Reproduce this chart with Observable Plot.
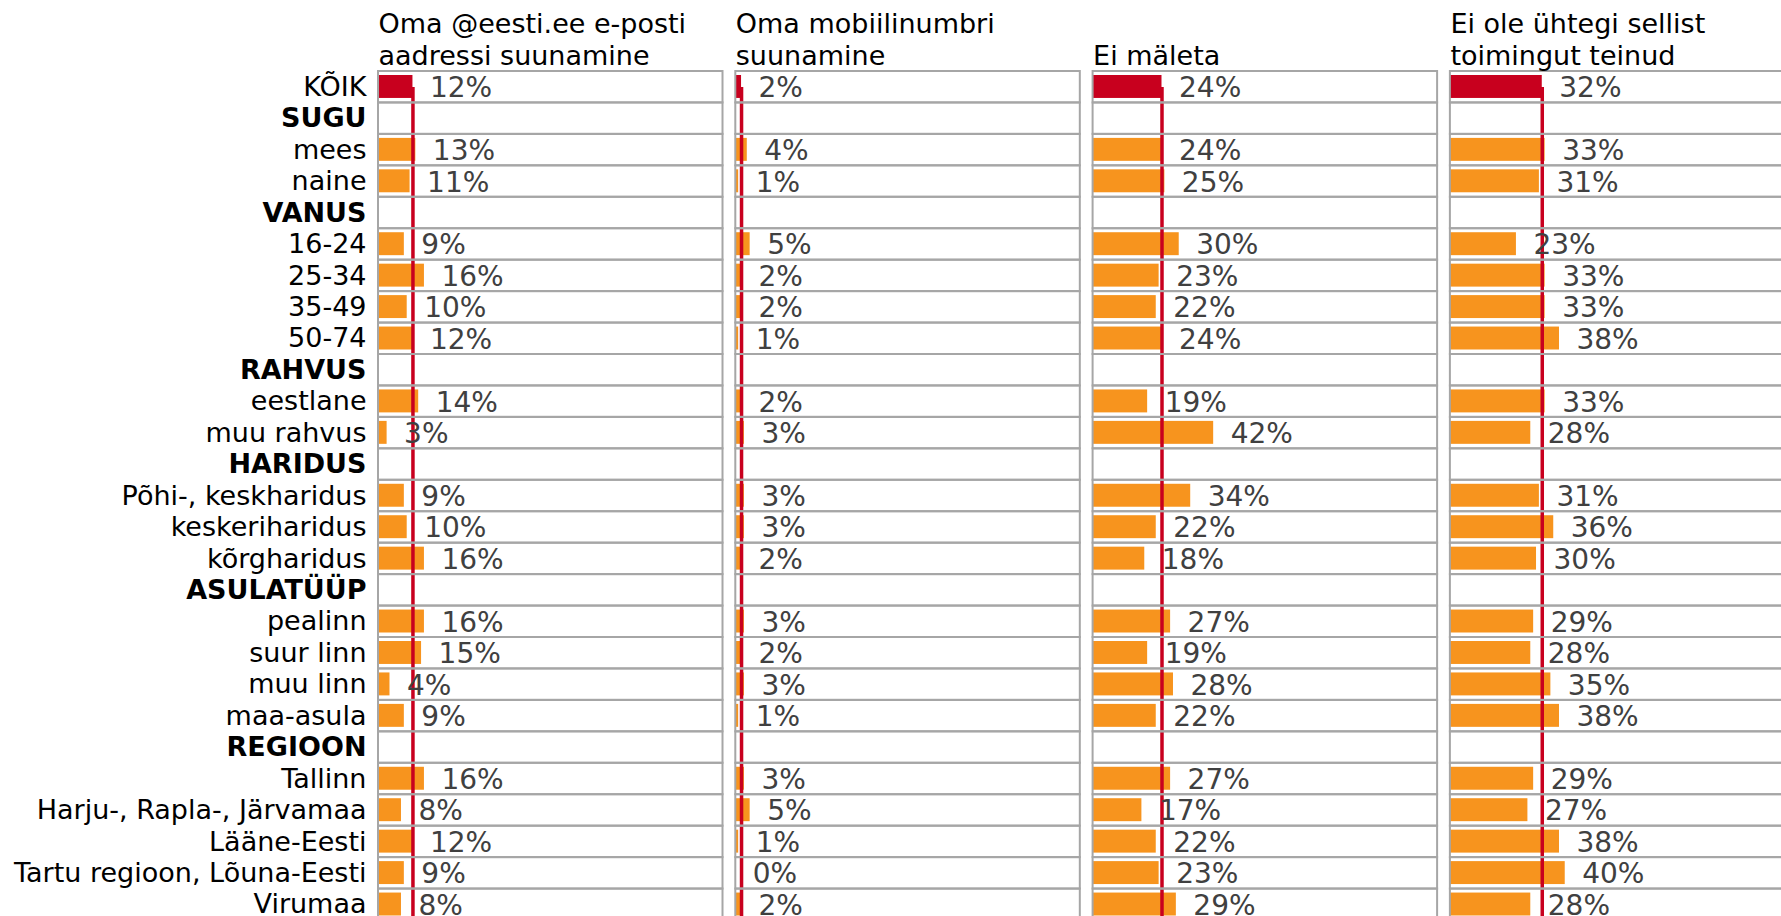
<!DOCTYPE html>
<html><head><meta charset="utf-8">
<script src="https://cdn.jsdelivr.net/npm/d3@7"></script>
<script src="https://cdn.jsdelivr.net/npm/@observablehq/plot@0.6"></script>
<style>html,body{margin:0;padding:0;overflow:hidden;background:#fff}</style>
</head><body><div id="chart"></div>
<script>
const rows = ["KÕIK","SUGU","mees","naine","VANUS","16-24","25-34","35-49","50-74","RAHVUS","eestlane","muu rahvus","HARIDUS","Põhi-, keskharidus","keskeriharidus","kõrgharidus","ASULATÜÜP","pealinn","suur linn","muu linn","maa-asula","REGIOON","Tallinn","Harju-, Rapla-, Järvamaa","Lääne-Eesti","Tartu regioon, Lõuna-Eesti","Virumaa"];
const groupRows = ["SUGU","VANUS","RAHVUS","HARIDUS","ASULATÜÜP","REGIOON"];
const panelTitles = ["Oma @eesti.ee e-posti\naadressi suunamine","Oma mobiilinumbri\nsuunamine","Ei mäleta","Ei ole ühtegi sellist\ntoimingut teinud"];
const emailForward = [12,13,11,9,16,10,12,14,3,9,10,16,16,15,4,9,16,8,12,9,8];
const mobileForward = [2,4,1,5,2,2,1,2,3,3,3,2,3,2,3,1,3,5,1,0,2];
const dontRemember = [24,24,25,30,23,22,24,19,42,34,22,18,27,19,28,22,27,17,22,23,29];
const noneDone = [32,33,31,23,33,33,38,33,28,31,36,30,29,28,35,38,29,27,38,40,28];

const series = [emailForward, mobileForward, dontRemember, noneDone];
const valueRows = rows.filter(r => !groupRows.includes(r));
const data = panelTitles.flatMap((p, i) => valueRows.map((r, j) => ({panel: p, row: r, value: series[i][j]})));
const gridData = panelTitles.flatMap(p => rows.map(r => ({panel: p, row: r})));
const totals = panelTitles.map((p, i) => ({panel: p, value: series[i][0]}));
const RED = "#c8001e", ORANGE = "#f7941e";

const chart = Plot.plot({
  width: 1796, height: 920,
  marginLeft: 378, marginRight: 1.6, marginTop: 71, marginBottom: 0,
  style: {fontFamily: "DejaVu Sans", background: "#fff", overflow: "visible", maxWidth: "none"},
  fx: {domain: panelTitles, axis: null, paddingInner: 0.0358, paddingOuter: 0, round: false},
  x: {domain: [0, 120], axis: null},
  y: {domain: rows, axis: null, padding: 0, round: false},
  marks: [
    Plot.barX(data, {fx: "panel", y: "row", x: "value", fill: d => d.row === "KÕIK" ? RED : ORANGE, insetTop: 4, insetBottom: 4.5}),
    Plot.ruleX(totals, {fx: "panel", x: "value", y1: () => rows[0], y2: () => rows[rows.length - 1], stroke: RED, strokeWidth: 3.5, insetTop: 16}),
    Plot.text(data, {fx: "panel", y: "row", x: "value", text: d => d.value + "%", textAnchor: "start", dx: 17, dy: 1, fill: "#404040", fontSize: 28}),
    Plot.barX(gridData, {fx: "panel", y: "row", x1: 0, x2: 120, fill: "none", stroke: "#a6a6a6", strokeWidth: 2}),
    Plot.text(valueRows, {fx: () => panelTitles[0], y: d => d, text: d => d, frameAnchor: "left", textAnchor: "end", dx: -12, fontSize: 27, fill: "#000"}),
    Plot.text(groupRows, {fx: () => panelTitles[0], y: d => d, text: d => d, frameAnchor: "left", textAnchor: "end", dx: -12, fontSize: 27, fontWeight: "bold", fill: "#000"}),
    Plot.text(panelTitles, {fx: d => d, text: d => d, frameAnchor: "top-left", lineAnchor: "bottom", dy: -7, fontSize: 27, lineHeight: 1.15, fill: "#000"})
  ]
});
document.getElementById("chart").appendChild(chart);
</script>
</body></html>
